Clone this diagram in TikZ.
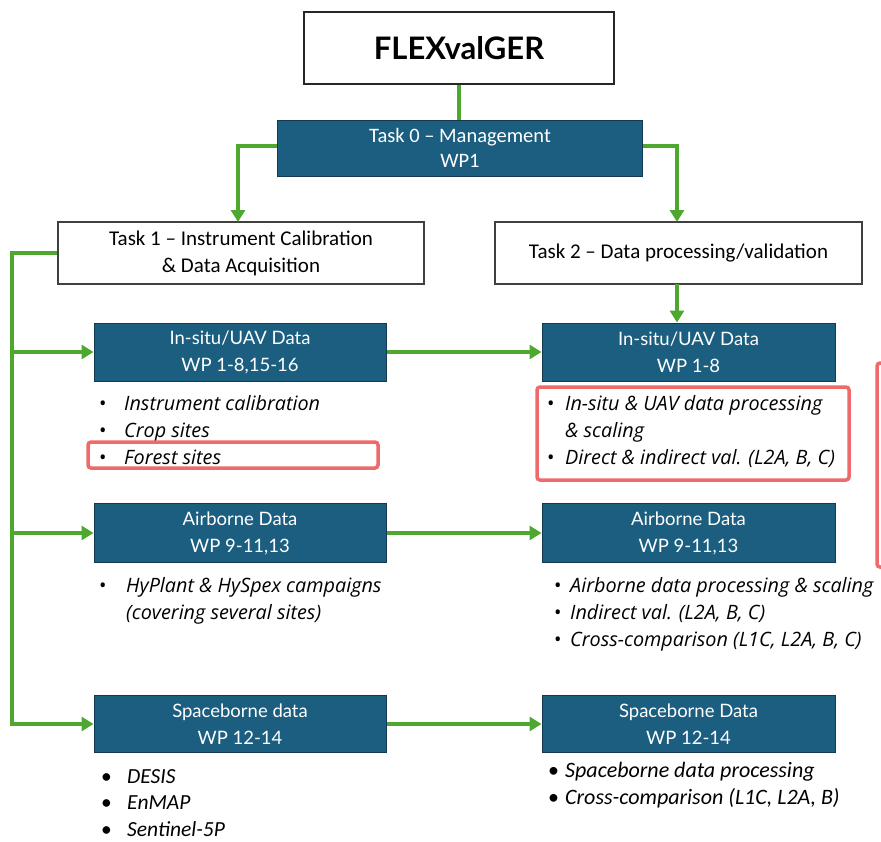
\documentclass[tikz,border=0pt]{standalone}
\usepackage{fontspec}
\setmainfont{Lato}
\newfontfamily\narrowfont{Carlito}
\newfontfamily\listfont{Open Sans}
\usetikzlibrary{arrows.meta}
\definecolor{boxblue}{HTML}{1B5E80}
\definecolor{boxedge}{HTML}{123A50}
\definecolor{flowgreen}{HTML}{4EA72E}
\definecolor{markred}{HTML}{EF6B6B}
\begin{document}
\begin{tikzpicture}[x=1pt,y=-1pt,
  wp/.style={draw=boxedge, line width=1pt, fill=boxblue, text=white, minimum width=292pt, minimum height=58pt, align=center, font=\fontsize{18.5}{27}\selectfont, inner sep=0pt},
  taskbox/.style={draw=black!75, line width=1.2pt, fill=white, minimum width=366pt, minimum height=62pt, align=center, font=\narrowfont\fontsize{21}{27}\selectfont, inner sep=0pt},
  flow/.style={draw=flowgreen, line width=3.5pt},
  flowarrow/.style={flow, -{Triangle[length=12pt,width=14pt]}},
  bul/.style={anchor=base west, inner sep=0pt, font=\listfont\fontsize{19.8}{27}\selectfont},
  redmark/.style={draw=markred, line width=3.5pt, rounded corners=3pt}
]
\useasboundingbox (0,0) rectangle (881,841);
\fill[white] (0,0) rectangle (881,841);

% title and tasks
\node[draw=black!85, line width=1.4pt, minimum width=310pt, minimum height=72pt, inner sep=0pt, font=\bfseries\fontsize{31}{34}\selectfont] (flex) at (459,48) {FLEXvalGER};
\node[wp, minimum width=365pt, minimum height=56pt, font=\narrowfont\fontsize{20.5}{25}\selectfont] (task0) at (460,148) {Task 0 – Management\\WP1};
\node[taskbox] (task1) at (241,253) {Task 1 – Instrument Calibration\\\& Data Acquisition};
\node[taskbox, minimum width=367pt] (task2) at (678.5,253) {Task 2 – Data processing/validation};

% work package boxes
\node[wp] (linsitu) at (240,352) {In-situ/UAV Data\\WP 1-8,15-16};
\node[wp, minimum width=293pt] (rinsitu) at (688.5,352) {In-situ/UAV Data\\WP 1-8};
\node[wp, minimum height=59pt] (lair) at (240,533) {Airborne Data\\WP 9-11,13};
\node[wp, minimum width=293pt, minimum height=59pt] (rair) at (688.5,533) {Airborne Data\\WP 9-11,13};
\node[wp, minimum height=57pt] (lspace) at (240,724) {Spaceborne data\\WP 12-14};
\node[wp, minimum width=293pt, minimum height=57pt] (rspace) at (688.5,724) {Spaceborne Data\\WP 12-14};

% connectors
\draw[flow] (flex.south) -- (task0.north -| flex.south);
\draw[flowarrow] (task0.west |- 0,146) -| (238,222);
\draw[flowarrow] (task0.east |- 0,146) -| (677,222);
\coordinate (trunktop) at (12,253);
\coordinate (t2foot) at (677,284);
\draw[flowarrow] (t2foot) -- (t2foot |- rinsitu.north);
\draw[flowarrow] (task1.west) -- (trunktop) |- (lspace.west);
\draw[flowarrow] (trunktop |- linsitu.west) -- (linsitu.west);
\draw[flowarrow] (trunktop |- lair.west) -- (lair.west);
\draw[flowarrow] (linsitu.east) -- (rinsitu.west);
\draw[flowarrow] (lair.east) -- (rair.west);
\draw[flowarrow] (lspace.east) -- (rspace.west);

% bullet lists
\node[bul] (b1) at (99,410) {\begin{tabular}[t]{@{}p{25pt}@{}l@{}}•&\textit{Instrument calibration}\\ •&\textit{Crop sites}\\ •&\textit{Forest sites}\end{tabular}};
\node[bul] (b2) at (547,410) {\begin{tabular}[t]{@{}p{18pt}@{}l@{}}•&\textit{In-situ \& UAV data processing}\\ &\textit{\& scaling}\\ •&\textit{Direct \& indirect val. (L2A, B, C)}\end{tabular}};
\node[bul] (b3) at (99,592) {\begin{tabular}[t]{@{}p{27pt}@{}l@{}}•&\textit{HyPlant \& HySpex campaigns}\\ &\textit{(covering several sites)}\end{tabular}};
\node[bul] (b4) at (554,592) {\begin{tabular}[t]{@{}p{16pt}@{}l@{}}•&\textit{Airborne data processing \& scaling}\\ •&\textit{Indirect val. (L2A, B, C)}\\ •&\textit{Cross-comparison (L1C, L2A, B, C)}\end{tabular}};
\node[bul, font=\narrowfont\fontsize{21.5}{26.5}\selectfont] (b5) at (101,783) {\begin{tabular}[t]{@{}p{26pt}@{}l@{}}•&\textit{DESIS}\\ •&\textit{EnMAP}\\ •&\textit{Sentinel-5P}\end{tabular}};
\node[bul, font=\narrowfont\fontsize{22}{27}\selectfont] (b6) at (548,777) {\begin{tabular}[t]{@{}p{17pt}@{}l@{}}•&\textit{Spaceborne data processing}\\ •&\textit{Cross-comparison (L1C, L2A, B)}\end{tabular}};

% red highlight marks
\draw[redmark] (88,442) rectangle (378,468);
\draw[redmark] (537,387) rectangle (849,480);
\draw[redmark] (877,363) rectangle (920,567);
\end{tikzpicture}
\end{document}
